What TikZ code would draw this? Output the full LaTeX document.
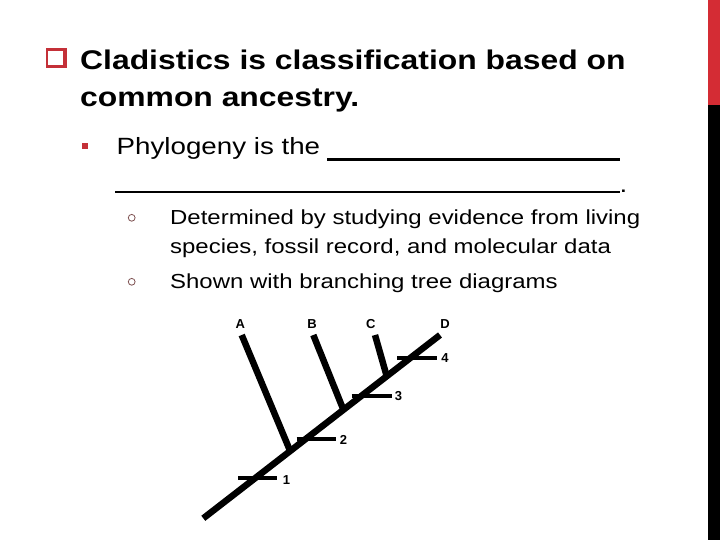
\documentclass[tikz,border=0pt]{standalone}
\usepackage{fontspec}
\usetikzlibrary{calc}
\setmainfont[FakeStretch=1.18]{Liberation Sans}
\newfontfamily\treefont{Liberation Sans}
\definecolor{slidered}{RGB}{212,44,52}
\definecolor{boxred}{RGB}{196,48,56}
\definecolor{subbul}{RGB}{125,80,80}
\begin{document}
\begin{tikzpicture}[x=1pt,y=-1pt,
  titletext/.style={anchor=base west,inner sep=0pt,font=\fontsize{27}{30}\selectfont\bfseries},
  lvltwo/.style={anchor=base west,inner sep=0pt,font=\fontsize{23.5}{27}\selectfont},
  lvlthree/.style={anchor=base west,inner sep=0pt,font=\fontsize{20.3}{24}\selectfont},
  blank/.style={line width=2.6pt},
  trunk/.style={line width=6.5pt},
  tick/.style={line width=4.3pt},
  treelabel/.style={inner sep=0pt,font=\treefont\fontsize{13}{14}\selectfont\bfseries}]
\fill[white] (0,0) rectangle (720,540);
\useasboundingbox (0,0) rectangle (720,540);
% right bar
\fill[slidered] (708,0) rectangle (720,105);
\fill[black] (708,105) rectangle (720,540);
% checkbox bullet
\fill[boxred] (46,48.3) rectangle (66.7,68.3);
\fill[white] (48.3,50.6) rectangle (63.2,64.6);
\node[titletext] (t1) at (80,69.5) {Cladistics is classification based on};
\node[titletext] (t2) at (80,106.5) {common ancestry.};
% level 2
\fill[boxred] (82,143) rectangle (88.3,149.3);
\node[lvltwo] (p1) at (116.5,155) {Phylogeny is the};
\coordinate (u1a) at (327,159.3);
\coordinate (u1b) at (620,159.3);
\coordinate (u2a) at (115,192);
\coordinate (u2b) at (620,192);
\draw[blank] (u1a) -- (u1b);
\draw[blank] (u2a) -- (u2b);
\node[lvltwo] (dot) at (619.5,192.5) {.};
% level 3
\draw[subbul,line width=0.8pt] (131.7,217.8) circle (3.4);
\draw[subbul,line width=0.8pt] (131.7,281.8) circle (3.4);
\node[lvlthree] (s1) at (170,225) {Determined by studying evidence from living};
\node[lvlthree] (s2) at (170,253) {species, fossil record, and molecular data};
\node[lvlthree] (s3) at (170,288.5) {Shown with branching tree diagrams};
% tree
\coordinate (root) at (203.3,518.3);
\coordinate (tipD) at (440,335);
\coordinate (jA) at ($(root)!0.367!(tipD)$);
\coordinate (jB) at ($(root)!0.592!(tipD)$);
\coordinate (jC) at ($(root)!0.775!(tipD)$);
\coordinate (tipA) at (241.7,335);
\coordinate (tipB) at (313.3,335);
\coordinate (tipC) at (375,335);
\draw[trunk] (root) -- (tipD);
\draw[trunk] (tipA) -- (jA);
\draw[trunk] (tipB) -- (jB);
\draw[trunk] (tipC) -- (jC);
\coordinate (k1a) at (238.3,478.3); \coordinate (k1b) at (276.7,478.3);
\coordinate (k2a) at (296.7,439);   \coordinate (k2b) at (336,439);
\coordinate (k3a) at (351.7,395.7); \coordinate (k3b) at (391.7,395.7);
\coordinate (k4a) at (397.3,358.3); \coordinate (k4b) at (436.7,358.3);
\draw[tick] (k1a) -- (k1b);
\draw[tick] (k2a) -- (k2b);
\draw[tick] (k3a) -- (k3b);
\draw[tick] (k4a) -- (k4b);
\node[treelabel] (lA) at (240.3,324.5) {A};
\node[treelabel] (lB) at (312,324.5) {B};
\node[treelabel] (lC) at (370.7,324.5) {C};
\node[treelabel] (lD) at (445,324.5) {D};
\node[treelabel] (n1) at (286.5,480.5) {1};
\node[treelabel] (n2) at (343.5,440) {2};
\node[treelabel] (n3) at (398.5,396) {3};
\node[treelabel] (n4) at (445,358.5) {4};
\end{tikzpicture}
\end{document}
